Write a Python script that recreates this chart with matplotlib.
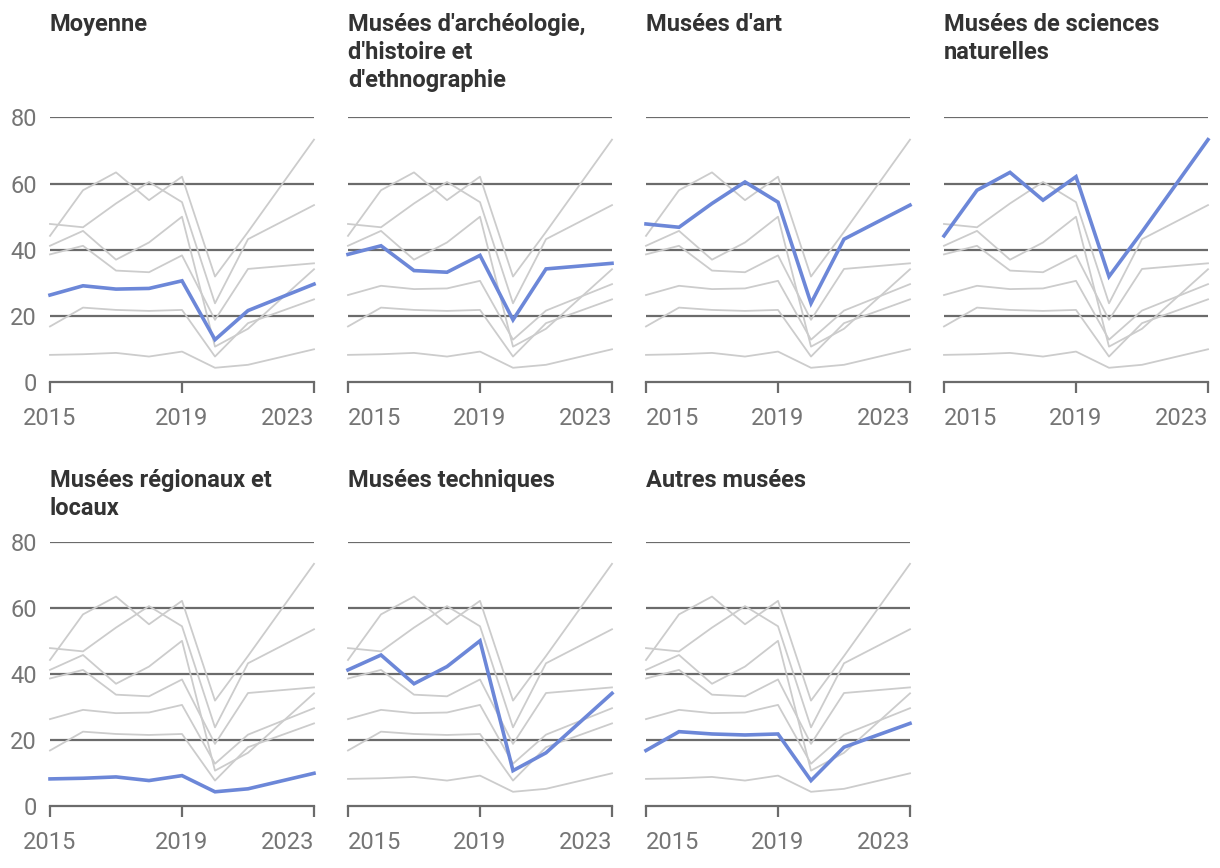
import matplotlib
matplotlib.use("Agg")
import matplotlib.pyplot as plt

years = [2015, 2016, 2017, 2018, 2019, 2020, 2021, 2023]
titles = [
    "Moyenne",
    "Musées d'archéologie,\nd'histoire et\nd'ethnographie",
    "Musées d'art",
    "Musées de sciences\nnaturelles",
    "Musées régionaux et\nlocaux",
    "Musées techniques",
    "Autres musées",
]
moyenne = [26.3, 29.1, 28.1, 28.3, 30.6, 12.8, 21.6, 29.6]
archeo = [38.6, 41.2, 33.7, 33.2, 38.3, 18.8, 34.2, 35.9]
art = [47.8, 46.8, 54.0, 60.5, 54.4, 23.8, 43.2, 53.5]
sciences = [44.2, 58.0, 63.4, 55.0, 62.1, 31.9, 45.4, 73.3]
regionaux = [8.2, 8.4, 8.8, 7.7, 9.2, 4.3, 5.2, 9.9]
techniques = [41.2, 45.7, 37.0, 42.2, 50.0, 10.7, 16.1, 34.1]
autres = [16.8, 22.5, 21.8, 21.5, 21.8, 7.7, 17.8, 25.0]
series = [moyenne, archeo, art, sciences, regionaux, techniques, autres]

x_ticks = [2015, 2019, 2023]
y_ticks = [0, 20, 40, 60, 80]

W, H = 1220, 868
fig = plt.figure(figsize=(W / 100, H / 100), dpi=100)
plt.rcParams['font.family'] = ['Roboto', 'DejaVu Sans']

col_x = [50, 348, 646, 944]
ax_w = 264
row_top = [117.5, 541.7]
row_bot = [382, 806]
title_base = [31, 486.7]
line_gap = 28

blue = "#6c87d8"
gray = "#cccccc"
grid_c = "#6b6b6b"
tick_c = "#757575"

for i, (title, vals) in enumerate(zip(titles, series)):
    r, c = divmod(i, 4)
    left = col_x[c] / W
    bottom = 1 - row_bot[r] / H
    height = (row_bot[r] - row_top[r]) / H
    ax = fig.add_axes([left, bottom, ax_w / W, height])
    ax.set_xlim(2015, 2023)
    ax.set_ylim(0, 80)
    for s in ("top", "right", "left"):
        ax.spines[s].set_visible(False)
    ax.spines["bottom"].set_color(grid_c)
    ax.spines["bottom"].set_linewidth(1.6)
    ax.set_yticks(y_ticks)
    ax.set_xticks(x_ticks)
    ax.set_xticklabels([str(t) for t in x_ticks])
    ax.tick_params(axis="x", length=8, width=1.6, color=grid_c, labelsize=17,
                   labelcolor=tick_c, pad=10)
    ax.tick_params(axis="y", length=0, labelsize=17, labelcolor=tick_c, pad=9.5)
    labels = ax.get_xticklabels()
    labels[0].set_ha("center" if c == 0 else "left")
    labels[-1].set_ha("right")
    if c != 0:
        ax.set_yticklabels([])
    for yv in y_ticks[1:]:
        ax.axhline(yv, color=grid_c, lw=1.6, zorder=1)
    for j, other in enumerate(series):
        if j != i:
            ax.plot(years, other, color=gray, lw=1.3, zorder=2, clip_on=False)
    ax.plot(years, vals, color=blue, lw=2.6, zorder=3, clip_on=False,
            solid_joinstyle="miter")
    for k, line in enumerate(title.split("\n")):
        fig.text(col_x[c] / W, 1 - (title_base[r] + k * line_gap) / H, line,
                 fontsize=17, fontweight="bold", color="#333333",
                 ha="left", va="baseline")

fig.savefig("out.png", dpi=100)
